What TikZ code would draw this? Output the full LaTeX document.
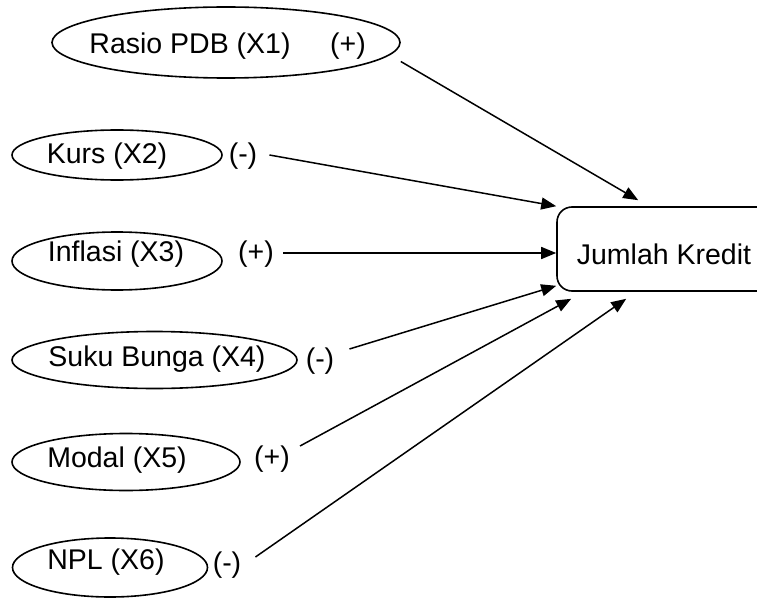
\documentclass[tikz,border=0pt]{standalone}
\usepackage{fontspec}
\setmainfont{Liberation Sans}
\usetikzlibrary{shapes.geometric,arrows.meta,calc}
\begin{document}
\begin{tikzpicture}[x=1pt,y=-1pt,
  oval/.style={draw, ellipse, line width=1.6pt, inner sep=0pt},
  txt/.style={inner sep=0pt, font=\fontsize{28.5}{34}\selectfont},
  sign/.style={inner sep=0pt, font=\fontsize{28.5}{34}\selectfont},
  kbox/.style={draw, rounded corners=15pt, line width=1.6pt, inner sep=0pt},
  conn/.style={line width=1.5pt, -{Triangle[length=15pt,width=12pt]}}]
\useasboundingbox (0,0) rectangle (757,599);
% ellipses
\node[oval, minimum width=348, minimum height=71] (e1) at (226,42.5) {};
\node[oval, minimum width=210, minimum height=50] (e2) at (117,155) {};
\node[oval, minimum width=210, minimum height=58] (e3) at (117,261) {};
\node[oval, minimum width=285, minimum height=57] (e4) at (154.5,360) {};
\node[oval, minimum width=228, minimum height=57] (e5) at (126,462) {};
\node[oval, minimum width=195, minimum height=59] (e6) at (110,567.5) {};
% texts
\node[txt] (t1) at (190,46.5) {Rasio PDB (X1)};
\node[txt] (t2) at (107,156) {Kurs (X2)};
\node[txt] (t3) at (116,254.5) {Inflasi (X3)};
\node[txt] (t4) at (157,359.5) {Suku Bunga (X4)};
\node[txt] (t5) at (117,460.5) {Modal (X5)};
\node[txt] (t6) at (106,562.5) {NPL (X6)};
% signs
\node[sign] (s1) at (348,46.5) {(+)};
\node[sign] (s2) at (243,156) {(-)};
\node[sign] (s3) at (256,254.5) {(+)};
\node[sign] (s4) at (320,361) {(-)};
\node[sign] (s5) at (272,459) {(+)};
\node[sign] (s6) at (227,565) {(-)};
% target box
\node[kbox, minimum width=225, minimum height=84] (box) at (669.5,249) {};
\node[txt] (jk) at (664,254) {Jumlah Kredit};
% arrow tips
\coordinate (a1) at ($(box.north west)+(82,-6)$);
\coordinate (a2) at ($(box.north west)+(0,0)$);
\coordinate (a3) at ($(box.west)+(0,4)$);
\coordinate (a4) at ($(box.south west)+(0,-6)$);
\coordinate (a5) at ($(box.south west)+(15,7)$);
\coordinate (a6) at ($(box.south west)+(70,7)$);
% connectors
\draw[conn] ($(e1.east)+(0,19)$) -- (a1);
\draw[conn] ($(s2.east)+(12,-1)$) -- (a2);
\draw[conn] ($(s3.east)+(9,-1.5)$) -- (a3);
\draw[conn] ($(s4.east)+(15,-12)$) -- (a4);
\draw[conn] ($(s5.east)+(10,-13)$) -- (a5);
\draw[conn] ($(s6.east)+(14,-8)$) -- (a6);
\end{tikzpicture}
\end{document}
